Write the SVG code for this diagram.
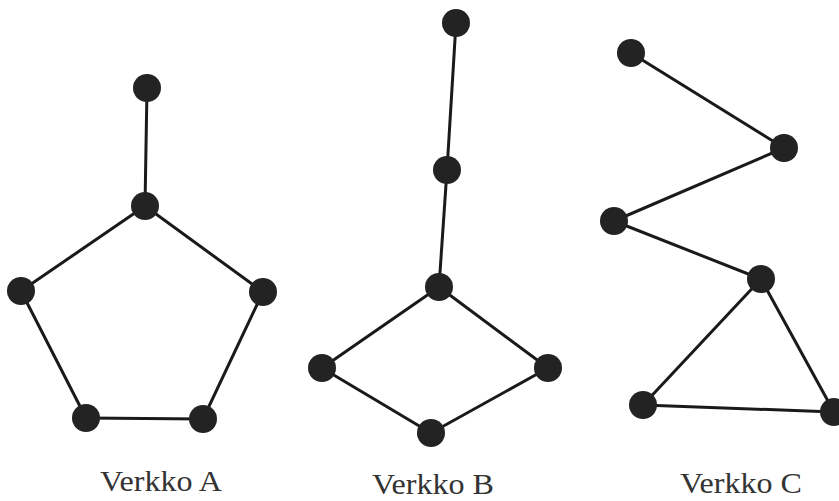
<svg xmlns="http://www.w3.org/2000/svg" width="839" height="501" viewBox="0 0 839 501">
<style>
.node{fill:#232323}
.edge{stroke:#1a1a1a;stroke-width:3;fill:none;stroke-linecap:round}
.lbl{font-family:"Liberation Serif","DejaVu Serif",serif;font-size:30px;fill:#333;text-anchor:middle}
</style>
<rect width="839" height="501" fill="#fff"/>
<g id="connectors" class="edge">
<line x1="147" y1="88" x2="145" y2="206"/>
<line x1="145" y1="206" x2="21" y2="291"/>
<line x1="145" y1="206" x2="263" y2="292"/>
<line x1="21" y1="291" x2="86" y2="418"/>
<line x1="263" y1="292" x2="203" y2="419"/>
<line x1="86" y1="418" x2="203" y2="419"/>
<line x1="456" y1="23" x2="447" y2="170"/>
<line x1="447" y1="170" x2="439" y2="287"/>
<line x1="439" y1="287" x2="322" y2="368"/>
<line x1="439" y1="287" x2="548" y2="368"/>
<line x1="322" y1="368" x2="431" y2="433"/>
<line x1="548" y1="368" x2="431" y2="433"/>
<line x1="631" y1="53" x2="784" y2="148"/>
<line x1="784" y1="148" x2="614" y2="221"/>
<line x1="614" y1="221" x2="761" y2="279"/>
<line x1="761" y1="279" x2="643" y2="405"/>
<line x1="761" y1="279" x2="834" y2="412"/>
<line x1="643" y1="405" x2="834" y2="412"/>
</g>
<g id="A1"><circle class="node" cx="147" cy="88" r="14"/></g>
<g id="A2"><circle class="node" cx="145" cy="206" r="14"/></g>
<g id="A3"><circle class="node" cx="21" cy="291" r="14"/></g>
<g id="A4"><circle class="node" cx="263" cy="292" r="14"/></g>
<g id="A5"><circle class="node" cx="86" cy="418" r="14"/></g>
<g id="A6"><circle class="node" cx="203" cy="419" r="14"/></g>
<g id="B1"><circle class="node" cx="456" cy="23" r="14"/></g>
<g id="B2"><circle class="node" cx="447" cy="170" r="14"/></g>
<g id="B3"><circle class="node" cx="439" cy="287" r="14"/></g>
<g id="B4"><circle class="node" cx="322" cy="368" r="14"/></g>
<g id="B5"><circle class="node" cx="548" cy="368" r="14"/></g>
<g id="B6"><circle class="node" cx="431" cy="433" r="14"/></g>
<g id="C1"><circle class="node" cx="631" cy="53" r="14"/></g>
<g id="C2"><circle class="node" cx="784" cy="148" r="14"/></g>
<g id="C3"><circle class="node" cx="614" cy="221" r="14"/></g>
<g id="C4"><circle class="node" cx="761" cy="279" r="14"/></g>
<g id="C5"><circle class="node" cx="643" cy="405" r="14"/></g>
<g id="C6"><circle class="node" cx="834" cy="412" r="14"/></g>
<g id="labels">
<text class="lbl" x="161" y="491" textLength="122" lengthAdjust="spacingAndGlyphs">Verkko A</text>
<text class="lbl" x="433" y="494" textLength="122" lengthAdjust="spacingAndGlyphs">Verkko B</text>
<text class="lbl" x="741" y="493" textLength="122" lengthAdjust="spacingAndGlyphs">Verkko C</text>
</g>
</svg>
